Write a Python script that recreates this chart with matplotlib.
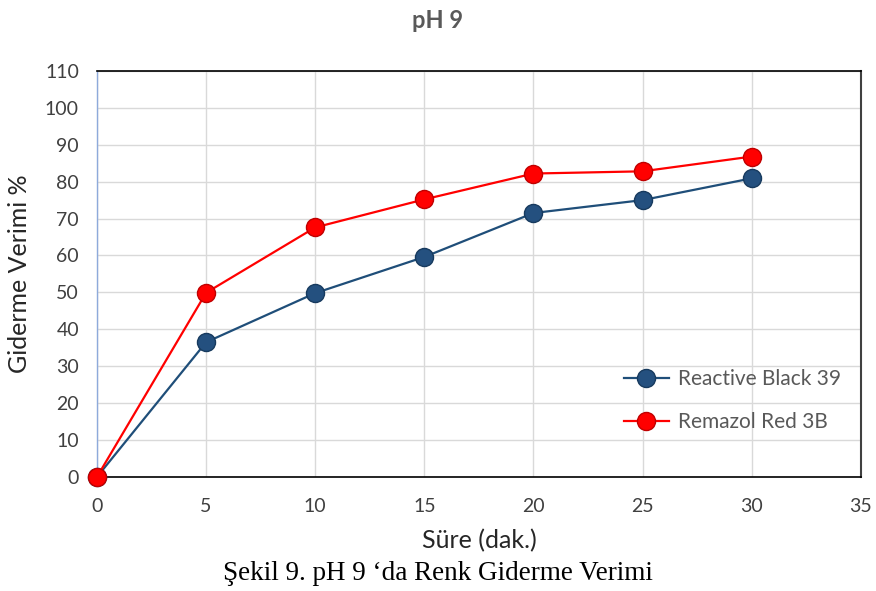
import matplotlib
matplotlib.use("Agg")
import matplotlib.pyplot as plt

# Süre (dak.)
time_min = [0, 5, 10, 15, 20, 25, 30]
black39 = [0, 36.5, 49.8, 59.6, 71.5, 75.0, 80.9]
red3b = [0, 49.9, 67.6, 75.2, 82.2, 82.8, 86.8]

BLUE = "#1F4E79"
RED = "#FF0000"
GRAY = "#595959"

plt.rcParams["font.family"] = ["Lato", "DejaVu Sans"]

fig = plt.figure(figsize=(8.76, 5.91), dpi=100)
ax = fig.add_axes([0.1107, 0.193, 0.872, 0.687])

ax.plot(time_min, black39, color=BLUE, lw=1.6, marker="o", ms=13,
        markerfacecolor="#24507F", markeredgecolor="#173A5E", mew=1.0,
        label="Reactive Black 39", zorder=3, clip_on=False)
ax.plot(time_min, red3b, color=RED, lw=1.6, marker="o", ms=13,
        markerfacecolor=RED, markeredgecolor="#C00000", mew=1.0,
        label="Remazol Red 3B", zorder=4, clip_on=False)

ax.set_xlim(0, 35)
ax.set_ylim(0, 110)
ax.set_xticks(range(0, 36, 5))
ax.set_yticks(range(0, 111, 10))
ax.grid(True, color="#D9D9D9", lw=1.0, zorder=0)
ax.set_axisbelow(True)
ax.tick_params(length=0, labelsize=14, labelcolor="#404040")
ax.tick_params(axis="x", pad=15)
ax.tick_params(axis="y", pad=13)

for side in ["top", "bottom"]:
    ax.spines[side].set_color("black")
    ax.spines[side].set_linewidth(1.2)
ax.spines["right"].set_color("#404040")
ax.spines["right"].set_linewidth(1.5)
ax.spines["left"].set_color("#8EAADB")
ax.spines["left"].set_linewidth(1.0)

ax.set_xlabel("Süre (dak.)", fontsize=18, color="#262626", labelpad=10)
ax.set_ylabel("Giderme Verimi %", fontsize=18, color="#262626", labelpad=10)
fig.text(0.499, 0.965, "pH 9", ha="center", va="center", fontsize=17,
         fontweight="bold", color=GRAY)

leg = ax.legend(loc="lower right", bbox_to_anchor=(0.99, 0.08), frameon=False,
                fontsize=15, handlelength=2.2, handletextpad=0.4,
                labelspacing=1.1, borderaxespad=0.2)
for t in leg.get_texts():
    t.set_color(GRAY)

fig.text(0.5, 0.03, "Şekil 9. pH 9 ‘da Renk Giderme Verimi", ha="center", va="center",
         fontsize=19.5, family=["Liberation Serif", "DejaVu Serif"])

fig.savefig("out.png", dpi=100)
